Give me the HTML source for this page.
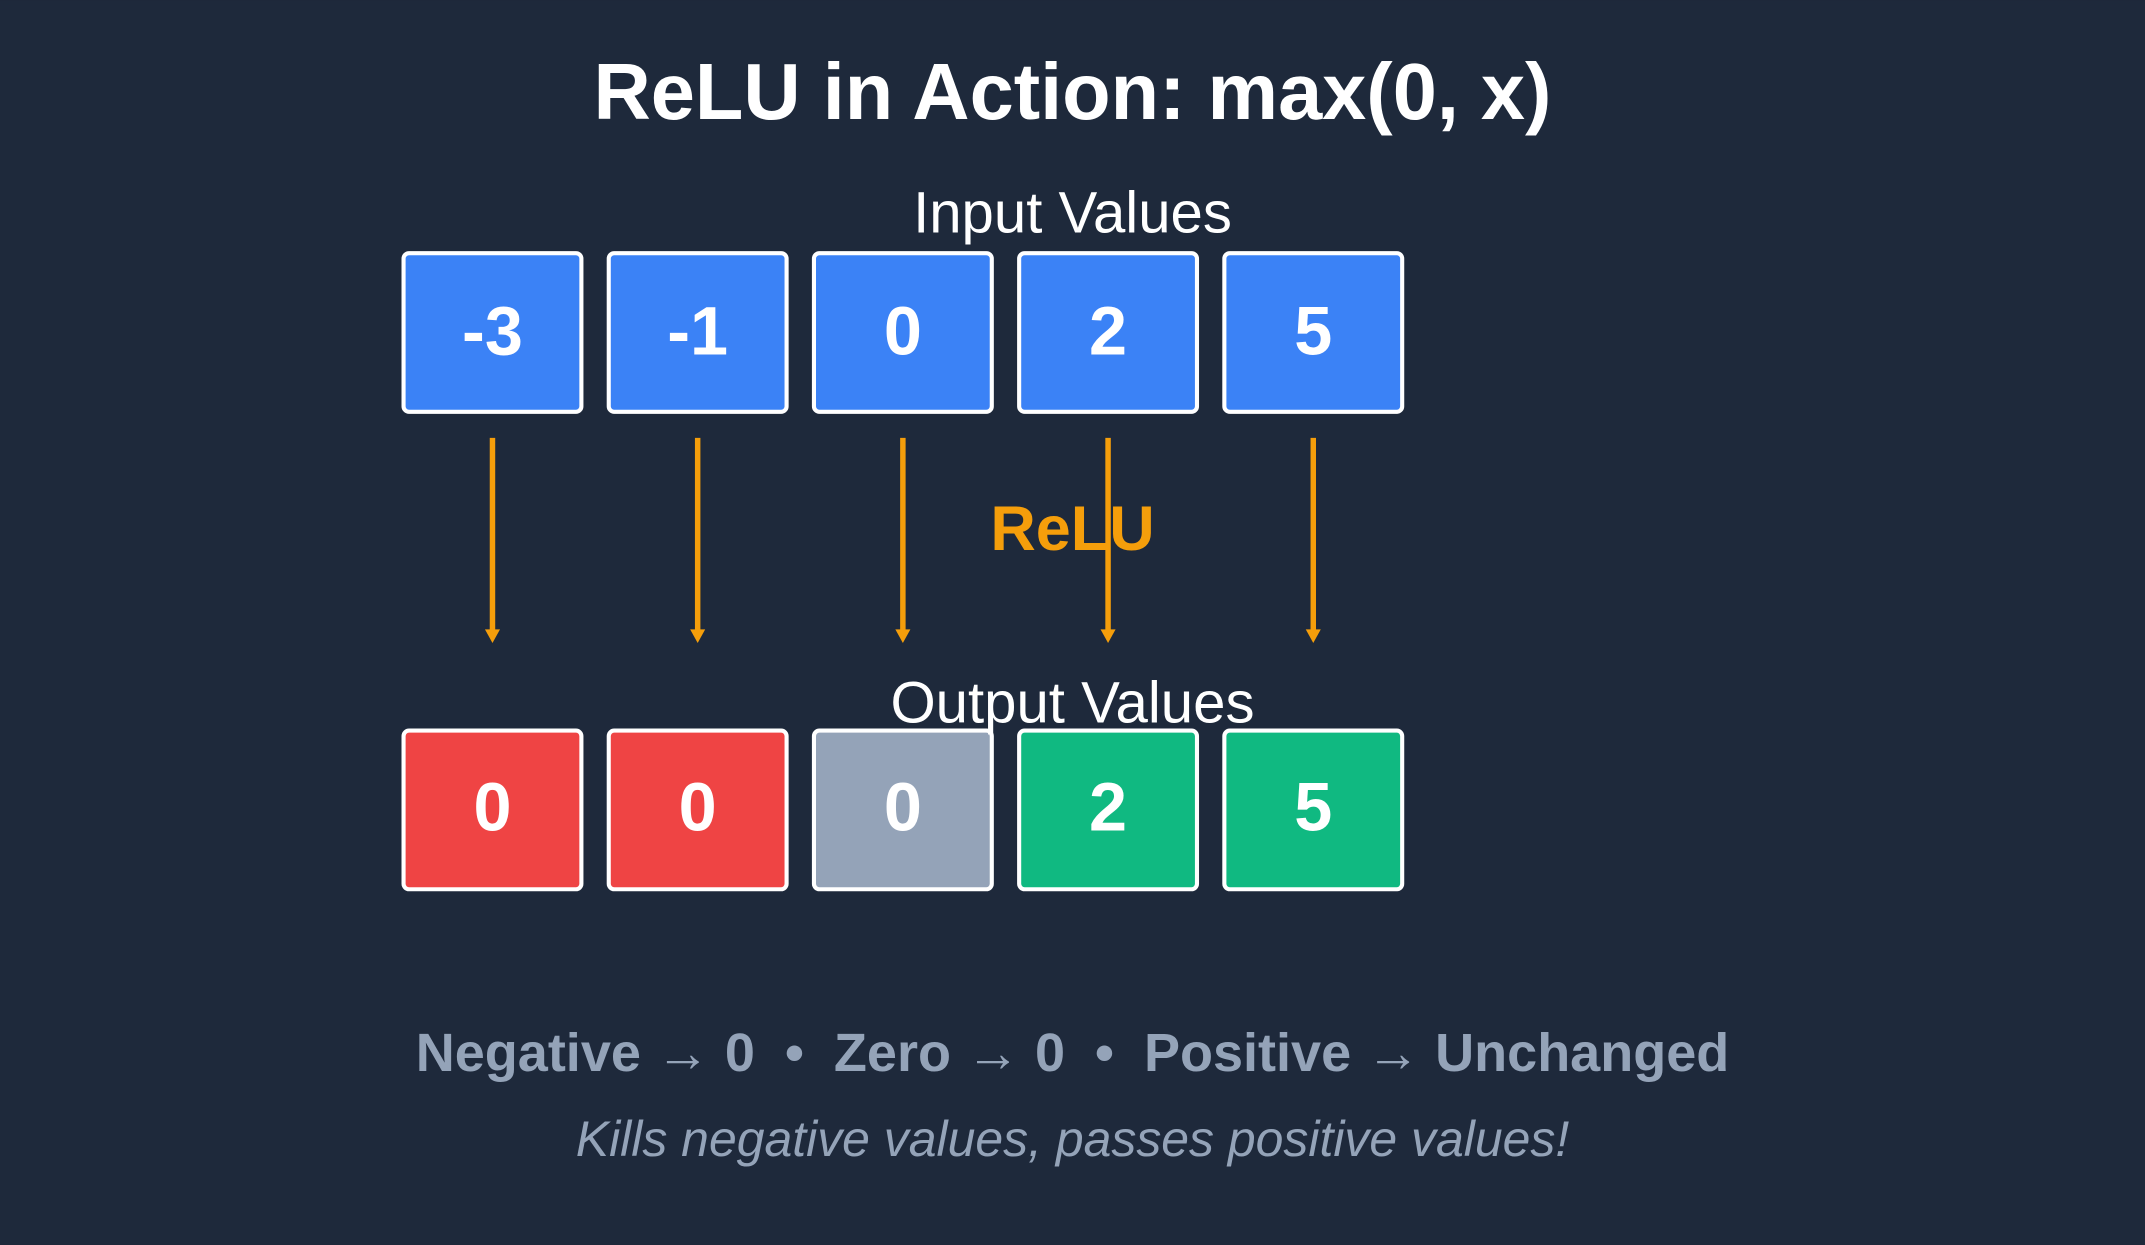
<!DOCTYPE html>
<html><head><meta charset="utf-8"><style>
html,body{margin:0;padding:0;background:#1e293b;}
svg{display:block}
</style></head><body>
<svg width="2145" height="1245" viewBox="0 0 1568 910" xmlns="http://www.w3.org/2000/svg" font-family="Liberation Sans, Arial, sans-serif">
<rect width="1568" height="910" fill="#1e293b"/>
<text x="784" y="87" text-anchor="middle" font-size="58" font-weight="bold" fill="#fff">ReLU in Action: max(0, x)</text>
<text x="784" y="170" text-anchor="middle" font-size="42.5" fill="#fff">Input Values</text>
<g stroke="#fff" stroke-width="3">
<rect x="295" y="185" width="130" height="116" rx="4" fill="#3b82f6"/>
<rect x="445" y="185" width="130" height="116" rx="4" fill="#3b82f6"/>
<rect x="595" y="185" width="130" height="116" rx="4" fill="#3b82f6"/>
<rect x="745" y="185" width="130" height="116" rx="4" fill="#3b82f6"/>
<rect x="895" y="185" width="130" height="116" rx="4" fill="#3b82f6"/>
<rect x="295" y="534" width="130" height="116" rx="4" fill="#ef4444"/>
<rect x="445" y="534" width="130" height="116" rx="4" fill="#ef4444"/>
<rect x="595" y="534" width="130" height="116" rx="4" fill="#94a3b8"/>
<rect x="745" y="534" width="130" height="116" rx="4" fill="#10b981"/>
<rect x="895" y="534" width="130" height="116" rx="4" fill="#10b981"/>
</g>
<g font-size="50" font-weight="bold" fill="#fff" text-anchor="middle">
<text x="360" y="259">-3</text><text x="510" y="259">-1</text><text x="660" y="259">0</text><text x="810" y="259">2</text><text x="960" y="259">5</text>
<text x="360" y="607">0</text><text x="510" y="607">0</text><text x="660" y="607">0</text><text x="810" y="607">2</text><text x="960" y="607">5</text>
</g>
<text x="784" y="402" text-anchor="middle" font-size="46" font-weight="bold" fill="#f59e0b">ReLU</text>
<g stroke="#f59e0b" stroke-width="4">
<line x1="360" y1="320" x2="360" y2="464"/><line x1="510" y1="320" x2="510" y2="464"/><line x1="660" y1="320" x2="660" y2="464"/><line x1="810" y1="320" x2="810" y2="464"/><line x1="960" y1="320" x2="960" y2="464"/>
</g>
<g fill="#f59e0b">
<path d="M354.5 460 L365.5 460 L360 470Z"/><path d="M504.5 460 L515.5 460 L510 470Z"/><path d="M654.5 460 L665.5 460 L660 470Z"/><path d="M804.5 460 L815.5 460 L810 470Z"/><path d="M954.5 460 L965.5 460 L960 470Z"/>
</g>
<text x="784" y="528" text-anchor="middle" font-size="42.5" fill="#fff">Output Values</text>
<text x="784" y="783" text-anchor="middle" font-size="39.5" font-weight="bold" fill="#94a3b8" xml:space="preserve" style="white-space:pre">Negative → 0  •  Zero → 0  •  Positive → Unchanged</text>
<text x="784" y="845" text-anchor="middle" font-size="36.5" font-style="italic" fill="#94a3b8">Kills negative values, passes positive values!</text>
</svg>
</body></html>
